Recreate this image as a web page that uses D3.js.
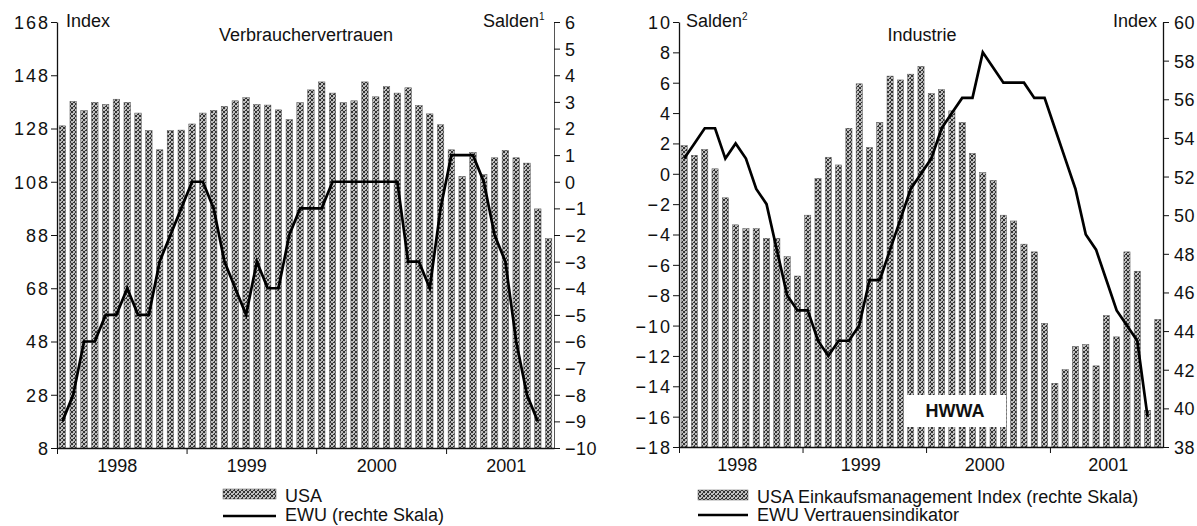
<!DOCTYPE html>
<html><head><meta charset="utf-8">
<script src="https://cdn.jsdelivr.net/npm/d3@7"></script>
<style>
body{margin:0;background:#fff;}
svg text{font-family:"Liberation Sans",Arial,Helvetica,sans-serif;fill:#111;}
</style></head><body>
<svg id="c" width="1197" height="526"></svg>
<script>
// ---------- DATA ----------
// Left panel: Verbrauchervertrauen, monthly Jan 1998 – Oct 2001
const usaConsumer = [129,138.2,134.7,137.8,137,139,137.8,133.8,127.2,120,127.2,127.4,
  129.7,133.8,134.8,136.3,138.4,139.6,137,136.8,135,131.3,137.7,142.5,
  145.5,141.3,137.7,138.4,145.5,139.9,143.7,141.3,143.3,136.7,133.5,129.4,
  120,110,119,110.7,117,119.8,117,115,97.8,86.6];
const ewuConsumer = [-9,-8,-6,-6,-5,-5,-4,-5,-5,-3,-2,-1,
  0,0,-1,-3,-4,-5,-3,-4,-4,-2,-1,-1,
  -1,0,0,0,0,0,0,0,-3,-3,-4,-1,
  1,1,1,0,-2,-3,-6,-8,-9];
// Right panel: Industrie, monthly Jan 1998 – Nov 2001
const usaPMI = [53.6,53.1,53.4,52.4,50.9,49.5,49.3,49.3,48.8,48.8,47.85,46.85,
  50.0,51.9,53.0,52.6,54.5,56.8,53.5,54.8,57.2,57.0,57.3,57.7,
  56.3,56.5,55.4,54.8,53.2,52.2,51.8,50.0,49.7,48.5,48.1,44.4,
  41.3,42.0,43.2,43.3,42.2,44.8,43.7,48.1,47.1,39.9,44.6];
const ewuIndustry = [1,2,3,3,1,2,1,-1,-2,-5,-8,-9,
  -9,-11,-12,-11,-11,-10,-7,-7,-5,-3,-1,0,
  1,3,4,5,5,8,7,6,6,6,5,5,
  3,1,-1,-4,-5,-7,-9,-10,-11,-16];

const years = ["1998","1999","2000","2001"];
const ticksLeftIndex = [8,28,48,68,88,108,128,148,168];
const ticksLeftSalden = [-10,-9,-8,-7,-6,-5,-4,-3,-2,-1,0,1,2,3,4,5,6];
const ticksRightSalden = [-18,-16,-14,-12,-10,-8,-6,-4,-2,0,2,4,6,8,10];
const ticksRightIndex = [38,40,42,44,46,48,50,52,54,56,58,60];

const monthsL = d3.timeMonth.range(new Date(1998,0,1), new Date(1998, usaConsumer.length, 1));
const monthsR = d3.timeMonth.range(new Date(1998,0,1), new Date(1998, usaPMI.length, 1));

// ---------- DRAW ----------
const svg = d3.select("#c");
const defs = svg.append("defs");
const pat = defs.append("pattern").attr("id","dots").attr("width",4).attr("height",4)
  .attr("patternUnits","userSpaceOnUse");
pat.append("rect").attr("width",4).attr("height",4).attr("fill","#bebebe");
[[0,0],[2,1],[1,2],[3,3],[0,3],[2,2],[3,0]].forEach(p=>pat.append("rect")
  .attr("x",p[0]).attr("y",p[1]).attr("width",1).attr("height",1).attr("fill","#333"));

const FS = 18;

function styleAxis(g){
  g.attr("font-size",null).attr("font-family",null);
  g.selectAll("text").attr("font-size",FS).attr("fill","#111").style("letter-spacing","2px");
  g.selectAll("line").attr("stroke","#111");
  g.select(".domain").attr("stroke","#111").attr("stroke-width",1.3);
}

function panel(o){
  const g = svg.append("g");
  const x = d3.scaleBand().domain(o.months).range([o.x0,o.x1]).paddingInner(0.4).paddingOuter(0.2);
  const xt = d3.scaleTime().domain([o.months[0], d3.timeMonth.offset(o.months[o.months.length-1],1)]).range([o.x0,o.x1]);
  const yB = d3.scaleLinear().domain(o.barDomain).range([o.yb,o.yt]);
  const yLn = d3.scaleLinear().domain(o.lineDomain).range([o.yb,o.yt]);
  const bw = x.bandwidth();

  g.append("g").selectAll("rect").data(o.bars).join("rect")
    .attr("x",(d,i)=>x(o.months[i])).attr("width",bw)
    .attr("y",d=>yB(d)).attr("height",d=>yB(o.barDomain[0])-yB(d))
    .attr("fill","url(#dots)").attr("stroke","#555").attr("stroke-width",0.5);

  if (o.box) o.box(g);

  g.append("path").datum(o.line)
    .attr("fill","none").attr("stroke","#000").attr("stroke-width",2.7).attr("stroke-linejoin","miter")
    .attr("d", d3.line().x((d,i)=>x(o.months[i])+bw/2).y(d=>yLn(d)));

  const leftScale = o.leftIsBars ? yB : yLn;
  const rightScale = o.leftIsBars ? yLn : yB;
  const aL = g.append("g").attr("transform",`translate(${o.x0},0)`)
    .call(d3.axisLeft(leftScale).tickValues(o.leftTicks).tickSize(6).tickSizeOuter(0).tickPadding(o.padL)
      .tickFormat(d3.format("d")));
  styleAxis(aL);
  aL.selectAll("text").attr("dy","0.36em");
  const aR = g.append("g").attr("transform",`translate(${o.x1},0)`)
    .call(d3.axisRight(rightScale).tickValues(o.rightTicks).tickSize(6).tickSizeOuter(0).tickPadding(o.padR)
      .tickFormat(d3.format("d")));
  styleAxis(aR);
  aR.selectAll("text").attr("dy","0.36em").style("letter-spacing","0.5px");
  if (o.rightGray) { aR.select(".domain").attr("stroke","#555").attr("stroke-width",1); }

  const yearStarts = years.map(y=>new Date(+y,0,1));
  const aB = g.append("g").attr("transform",`translate(0,${o.yb})`)
    .call(d3.axisBottom(xt).tickValues(yearStarts).tickSize(6).tickSizeOuter(0).tickFormat(""));
  styleAxis(aB);
  g.append("g").selectAll("text").data(years).join("text")
    .attr("x",d=>xt(new Date(+d,6,1))+o.yearDx).attr("y",o.yb+24)
    .attr("text-anchor","middle").attr("font-size",FS).text(d=>d);
  return {x,xt,yB,yLn};
}

// Left panel
panel({months:monthsL, x0:57, x1:554, yt:22, yb:448,
  bars:usaConsumer, line:ewuConsumer, barDomain:[8,168], lineDomain:[-10,6],
  leftIsBars:true, leftTicks:ticksLeftIndex, rightTicks:ticksLeftSalden,
  padL:1, padR:5, rightGray:true, yearDx:-4});

// Right panel
panel({months:monthsR, x0:679, x1:1163, yt:22, yb:447,
  bars:usaPMI, line:ewuIndustry, barDomain:[38,60], lineDomain:[-18,10],
  leftIsBars:false, leftTicks:ticksRightSalden, rightTicks:ticksRightIndex,
  padL:1, padR:5, rightGray:false, yearDx:-3,
  box:g=>{
    g.append("rect").attr("x",904).attr("y",395).attr("width",102).attr("height",32).attr("fill","#fff");
    g.append("text").attr("x",955).attr("y",417).attr("text-anchor","middle")
      .attr("font-size",FS).attr("font-weight","bold").text("HWWA");
  }});

function label(x,y,t,anchor,sup){
  const tx = svg.append("text").attr("x",x).attr("y",y).attr("text-anchor",anchor||"start").attr("font-size",FS).text(t);
  if (sup) tx.append("tspan").attr("font-size",10).attr("dy",-7).text(sup);
  return tx;
}
label(66,27,"Index");
label(306,41,"Verbrauchervertrauen","middle");
label(483,27,"Salden",null,"1");
label(686,27,"Salden",null,"2");
label(922,41,"Industrie","middle");
label(1157,27,"Index","end");

function legend(x,yRect,yLine,tx,t1,t2,t1y,t2y,w){
  svg.append("rect").attr("x",x).attr("y",yRect).attr("width",w).attr("height",10)
    .attr("fill","url(#dots)").attr("stroke","#555").attr("stroke-width",0.5);
  svg.append("line").attr("x1",x).attr("x2",x+w).attr("y1",yLine).attr("y2",yLine)
    .attr("stroke","#000").attr("stroke-width",2.7);
  label(tx,t1y,t1);
  label(tx,t2y,t2);
}
legend(223,489,516,285,"USA","EWU (rechte Skala)",502,521,53);
legend(698,490,515,757,"USA Einkaufsmanagement Index (rechte Skala)","EWU Vertrauensindikator",503,521,50);
</script>
</body></html>
